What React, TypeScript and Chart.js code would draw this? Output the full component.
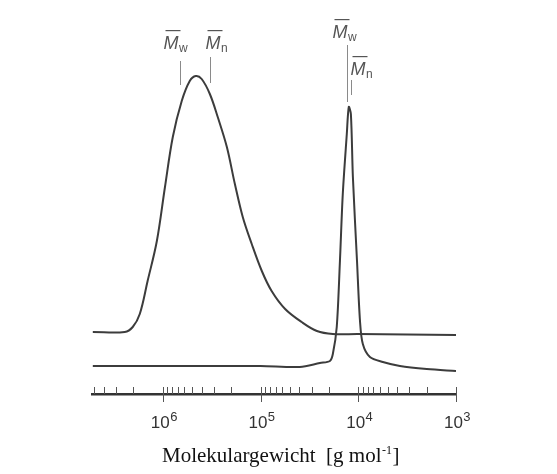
import React, { useEffect, useRef } from "react";
import { Chart, registerables } from "chart.js";

Chart.register(...registerables);

// Broad distribution (molar mass in g/mol, detector signal in arbitrary units)
const broadMW = [5.2e6, 2.45e6, 2.03e6, 1.72e6, 1.43e6, 1.15e6, 9.5e5, 7.9e5, 6.4e5, 5.3e5, 4.6e5, 4.0e5, 3.3e5, 2.74e5, 2.21e5, 1.83e5, 1.52e5, 1.23e5, 9.7e4, 7.7e4, 5.6e4, 3.8e4, 2.65e4, 1.82e4, 1.0e4, 1.0e3];
const broadSignal = [62, 62, 67, 80, 113, 153, 207, 257, 293, 313, 318, 315, 300, 277, 247, 210, 177, 150, 123, 103, 85, 72, 63, 60, 60, 59];

// Narrow distribution
const narrowMW = [5.2e6, 1.0e6, 1.0e5, 3.96e4, 2.47e4, 1.95e4, 1.82e4, 1.66e4, 1.54e4, 1.44e4, 1.31e4, 1.25e4, 1.19e4, 1.135e4, 1.03e4, 9.6e3, 8.98e3, 7.6e3, 5.6e3, 3.75e3, 1.99e3, 1.0e3];
const narrowSignal = [28, 28, 28, 27, 31, 33, 40, 67, 133, 200, 260, 287, 280, 217, 133, 73, 50, 37, 32, 28, 25, 23];

// Axis ticks
const majorTicks = [1e6, 1e5, 1e4, 1e3];
const tickBase = "10";
const tickExponents = ["6", "5", "4", "3"];
const minorTicks = [
  5e6, 4e6, 3e6, 2e6,
  9e5, 8e5, 7e5, 6e5, 5e5, 4e5, 3e5, 2e5,
  9e4, 8e4, 7e4, 6e4, 5e4, 4e4, 3e4, 2e4,
  9e3, 8e3, 7e3, 6e3, 5e3, 4e3, 3e3, 2e3,
];
const axisTitleMain = "Molekulargewicht  [g mol";
const axisTitleSup = "-1";
const axisTitleEnd = "]";

// Average molar mass markers
const markerMW = [6.7e5, 3.3e5, 1.31e4, 1.19e4];
const markerSub = ["w", "n", "w", "n"];

const LINE_COLOR = "#3c3c3c";
const SANS = '"Liberation Sans", Arial, sans-serif';
const SERIF = '"Liberation Serif", "Times New Roman", serif';

const markerPlugin = {
  id: "markers",
  afterDraw(chart: any) {
    const { ctx, scales } = chart;
    const xs = scales.x;
    const area = chart.chartArea;
    const layout = [
      { dx: -17, base: 49, top: 61, bottom: 85 },
      { dx: -5, base: 49, top: 57, bottom: 83 },
      { dx: -15, base: 38, top: 45, bottom: 102 },
      { dx: -1, base: 75, top: 80, bottom: 95 },
    ];
    ctx.save();
    // tick marks
    ctx.strokeStyle = "#555";
    ctx.lineWidth = 1;
    const yb = area.bottom;
    minorTicks.forEach((v) => {
      const x = Math.round(xs.getPixelForValue(v)) + 0.5;
      ctx.beginPath();
      ctx.moveTo(x, yb - 7);
      ctx.lineTo(x, yb);
      ctx.stroke();
    });
    majorTicks.forEach((v) => {
      const x = Math.round(xs.getPixelForValue(v)) + 0.5;
      ctx.beginPath();
      ctx.moveTo(x, yb - 7);
      ctx.lineTo(x, yb + 8);
      ctx.stroke();
    });
    // tick labels with superscript exponent
    ctx.textBaseline = "alphabetic";
    ctx.textAlign = "left";
    ctx.fillStyle = "#333";
    majorTicks.forEach((v, i) => {
      const x = xs.getPixelForValue(v);
      ctx.font = `17px ${SANS}`;
      const wb = ctx.measureText(tickBase).width;
      ctx.font = `13px ${SANS}`;
      const we = ctx.measureText(tickExponents[i]).width;
      const x0 = x - (wb + we) / 2 + 1;
      ctx.font = `17px ${SANS}`;
      ctx.fillText(tickBase, x0, yb + 34);
      ctx.font = `13px ${SANS}`;
      ctx.fillText(tickExponents[i], x0 + wb + 0.5, yb + 27);
    });
    // axis title
    ctx.fillStyle = "#111";
    ctx.font = `21px ${SERIF}`;
    const tx = 162;
    const ty = 462;
    ctx.fillText(axisTitleMain, tx, ty);
    const w1 = ctx.measureText(axisTitleMain).width;
    ctx.font = `12px ${SERIF}`;
    ctx.fillText(axisTitleSup, tx + w1 + 0.5, ty - 8);
    const w2 = ctx.measureText(axisTitleSup).width;
    ctx.font = `21px ${SERIF}`;
    ctx.fillText(axisTitleEnd, tx + w1 + w2 + 1, ty);
    // markers
    markerMW.forEach((m, i) => {
      const L = layout[i];
      const x = Math.round(xs.getPixelForValue(m)) + 0.5;
      ctx.strokeStyle = "#8a8a8a";
      ctx.lineWidth = 1;
      ctx.beginPath();
      ctx.moveTo(x, L.top);
      ctx.lineTo(x, L.bottom);
      ctx.stroke();
      const x0 = x + L.dx;
      ctx.fillStyle = "#555";
      ctx.font = `italic 18px ${SANS}`;
      ctx.fillText("M", x0, L.base);
      const wM = ctx.measureText("M").width;
      ctx.fillRect(x0 + 2, L.base - 19, wM, 1.2);
      ctx.font = `12px ${SANS}`;
      ctx.fillText(markerSub[i], x0 + wM + 0.5, L.base + 2.5);
    });
    ctx.restore();
  },
};

export default function App() {
  const ref = useRef<HTMLCanvasElement | null>(null);
  useEffect(() => {
    if (!ref.current) return;
    const chart = new Chart(ref.current, {
      type: "line",
      data: {
        datasets: [
          {
            data: broadMW.map((m, i) => ({ x: m, y: broadSignal[i] })),
            borderColor: LINE_COLOR,
            borderWidth: 2,
            pointRadius: 0,
            tension: 0.35,
            fill: false,
          },
          {
            data: narrowMW.map((m, i) => ({ x: m, y: narrowSignal[i] })),
            borderColor: LINE_COLOR,
            borderWidth: 2,
            pointRadius: 0,
            tension: 0.3,
            fill: false,
          },
        ],
      },
      options: {
        responsive: false,
        animation: false,
        layout: { padding: { left: 92, right: 101, top: 20, bottom: 0 } },
        plugins: { legend: { display: false }, tooltip: { enabled: false } },
        scales: {
          x: {
            type: "logarithmic",
            reverse: true,
            min: 1e3,
            max: 5.3e6,
            afterBuildTicks: (scale: any) => {
              scale.ticks = majorTicks.map((v) => ({ value: v, major: true }));
            },
            afterFit: (scale: any) => {
              scale.height = 80;
            },
            grid: { display: false, drawTicks: false },
            border: { display: true, color: "#333", width: 2.5 },
            ticks: { display: false },
            title: { display: false },
          },
          y: { display: false, min: 0, max: 374 },
        },
      },
      plugins: [markerPlugin],
    } as any);
    return () => chart.destroy();
  }, []);
  return (
    <div style={{ position: "fixed", left: 0, top: 0, width: 557, height: 474, background: "#fff" }}>
      <canvas ref={ref} width={557} height={474} style={{ width: 557, height: 474, display: "block" }} />
    </div>
  );
}
